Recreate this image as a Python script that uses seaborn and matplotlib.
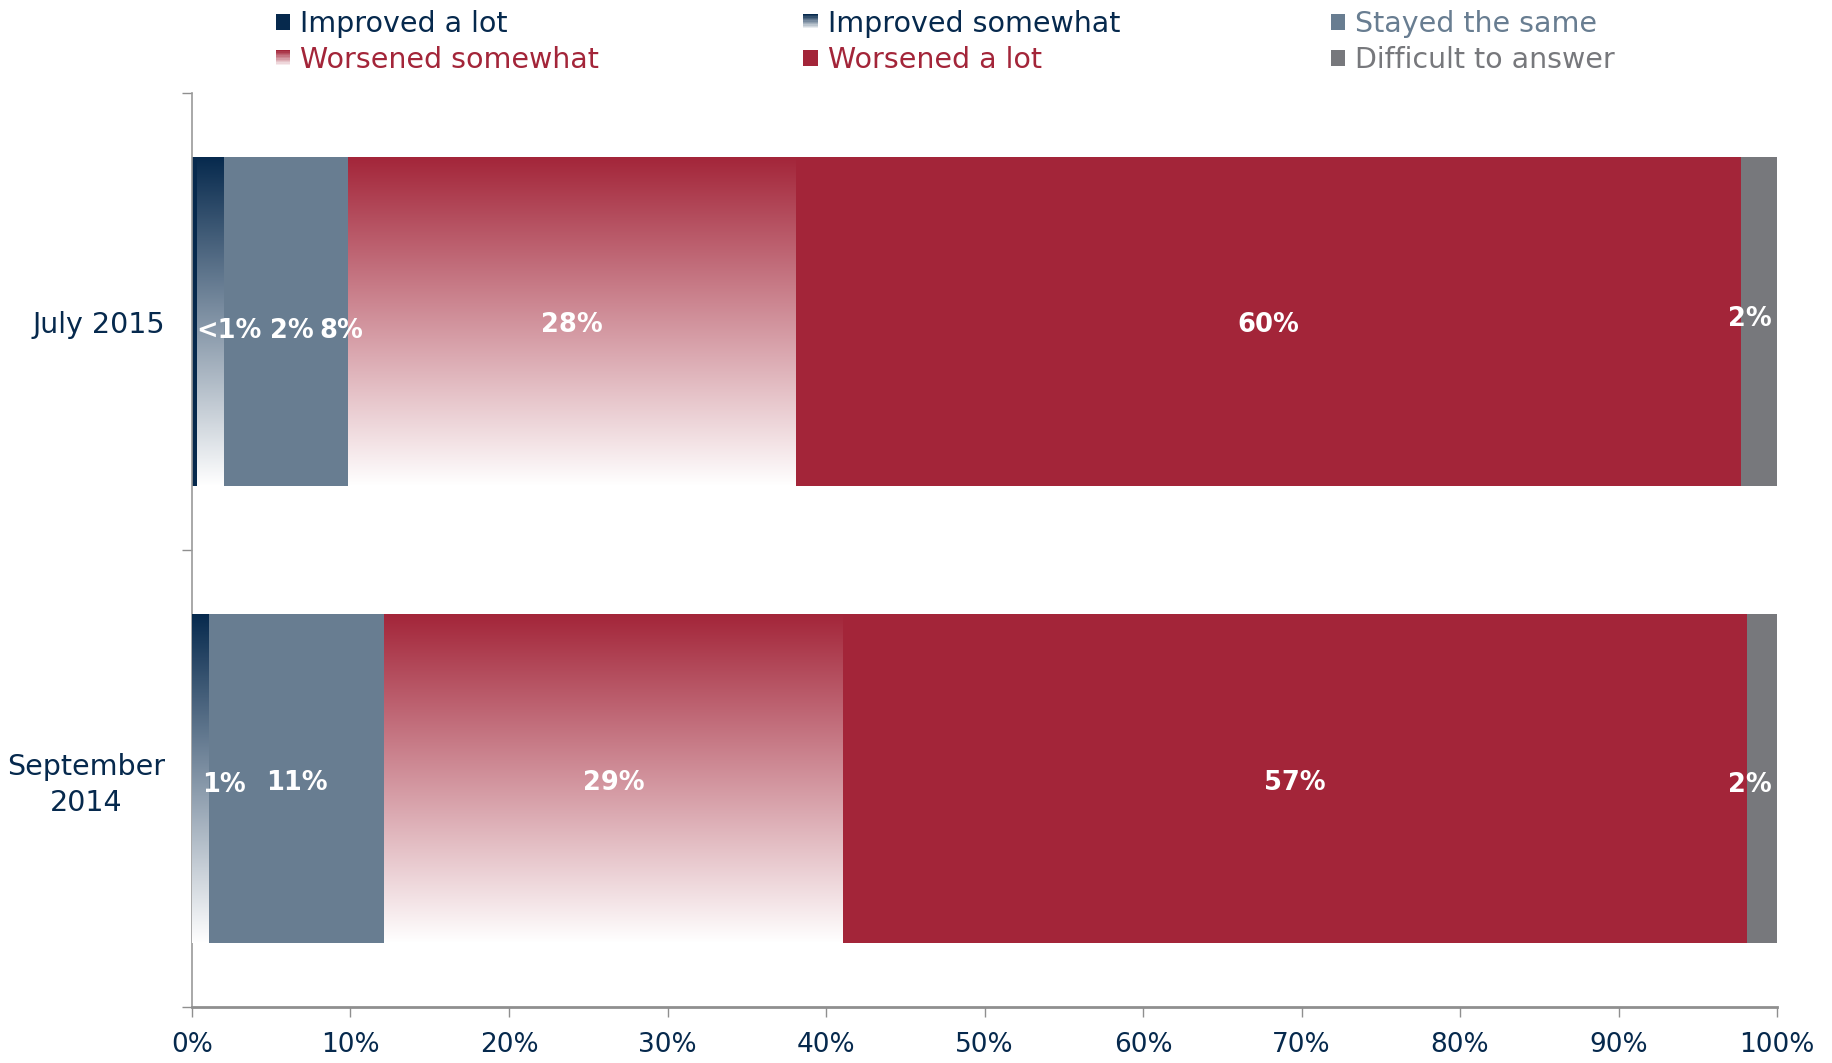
import numpy as np
import pandas as pd
import matplotlib
matplotlib.use("Agg")
import matplotlib.pyplot as plt
import matplotlib.patches as mpatches
from matplotlib.colors import LinearSegmentedColormap, to_rgb
from matplotlib.legend_handler import HandlerBase
import seaborn as sns

# dane (w %)
periods = ["July 2015", "September\n2014"]
answers = ["Improved a lot", "Improved somewhat", "Stayed the same",
           "Worsened somewhat", "Worsened a lot", "Difficult to answer"]
july_2015 = [0.3, 1.7, 7.85, 28.25, 59.6, 2.3]
sept_2014 = [0.0, 1.1, 11.0, 29.0, 57.0, 1.9]
labels_2015 = ["<1%", "2%", "8%", "28%", "60%", "2%"]
labels_2014 = ["", "1%", "11%", "29%", "57%", "2%"]

# styl
NAVY = "#06294D"
colors = [NAVY, NAVY, "#687D91", "#A32539", "#A32539", "#77787C"]
text_colors = [NAVY, NAVY, "#687D91", "#A32539", "#A32539", "#77787C"]
gradient = [False, True, False, True, False, False]
# przesunięcia etykiet (w punktach procentowych / w pt)
dx_2015 = [2.15, 5.15, 3.5, 0, 0, -0.55]
dx_2014 = [0, 1.45, 0, 0, 0, -0.75]
dy_2015 = [-6.5, -6.5, -6.5, -2.5, -2.5, 1.5]
dy_2014 = [-4.5, -4.5, -3, -3, -3, -4.5]

sns.set_style("white")
plt.rcParams["font.family"] = ["DejaVu Sans"]

df = pd.DataFrame({"period": periods,
                   **{a: [j, s] for a, j, s in zip(answers, july_2015, sept_2014)}})
lefts = df[answers].cumsum(axis=1) - df[answers]

fig = plt.figure(figsize=(18.32, 10.63), dpi=100)
ax = fig.add_axes([0.1048, 0.0527, 0.8652, 0.8598])

for i, a in enumerate(answers):
    sns.barplot(data=df, x=a, y="period", orient="y", left=lefts[a].values,
                color=colors[i], saturation=1, width=0.72, linewidth=0,
                edgecolor="none", ax=ax, zorder=2 + i)
    if gradient[i]:
        cmap = LinearSegmentedColormap.from_list("g" + str(i), [colors[i], "white"])
        for bar in ax.containers[-1]:
            x0, y0, w, h = bar.get_x(), bar.get_y(), bar.get_width(), bar.get_height()
            if w <= 0:
                continue
            im = ax.imshow(np.linspace(0, 1, 256).reshape(-1, 1), cmap=cmap,
                           aspect="auto", origin="upper",
                           extent=(x0, x0 + w, y0 + h, y0), zorder=2 + i)
            bar.set_facecolor("none")
            im.set_clip_path(bar)

# etykiety wartości
for row, (labs, dxs, dys) in enumerate([(labels_2015, dx_2015, dy_2015),
                                        (labels_2014, dx_2014, dy_2014)]):
    for i, a in enumerate(answers):
        if not labs[i]:
            continue
        xc = lefts.loc[row, a] + df.loc[row, a] / 2 + dxs[i]
        ax.annotate(labs[i], (xc, row), xytext=(0, dys[i]), textcoords="offset points",
                    ha="center", va="center", color="white", fontsize=18.5,
                    fontweight="bold", zorder=20)

ax.set_xlim(0, 100)
ax.set_ylim(1.5, -0.5)
ax.set_xlabel("")
ax.set_ylabel("")
ax.set_xticks(range(0, 101, 10))
ax.set_xticklabels([f"{v}%" for v in range(0, 101, 10)])
ax.set_yticks([0, 1])
ax.set_yticklabels(periods)
for t in ax.get_yticklabels():
    t.set_multialignment("center")
    t.set_linespacing(1.35)
ax.set_yticks([-0.5, 0.5, 1.5], minor=True)
ax.tick_params(axis="x", length=7, width=1, color="#8f8f8f", labelsize=19,
               labelcolor=NAVY, pad=11, bottom=True)
ax.tick_params(axis="y", which="major", length=0, labelsize=20.5, labelcolor=NAVY, pad=19)
ax.tick_params(axis="y", which="minor", length=7, width=1, color="#8f8f8f", left=True)

for s in ["top", "right"]:
    ax.spines[s].set_visible(False)
ax.spines["left"].set_color("#9a9a9a")
ax.spines["left"].set_linewidth(1.2)
ax.spines["bottom"].set_color("#8f8f8f")
ax.spines["bottom"].set_linewidth(2)
ax.grid(False)


# legenda z kwadracikami (gradient dla "somewhat")
class GradientHandler(HandlerBase):
    def create_artists(self, legend, orig_handle, xdescent, ydescent, width, height,
                       fontsize, trans):
        c = np.array(to_rgb(orig_handle.get_facecolor()))
        n = 12
        arts = []
        for k in range(n):
            f = k / (n - 1)
            col = c * (1 - f) + np.ones(3) * f
            r = mpatches.Rectangle((-xdescent, -ydescent + height * (1 - (k + 1) / n)),
                                   width, height / n, facecolor=col, edgecolor="none",
                                   transform=trans)
            arts.append(r)
        return arts


handles = [mpatches.Patch(facecolor=c, edgecolor="none") for c in colors]
hmap = {h: GradientHandler() for h, g in zip(handles, gradient) if g}

legend_cols = [[0, 3], [1, 4], [2, 5]]
legend_x = [0.149, 0.437, 0.725]
for cols, lx in zip(legend_cols, legend_x):
    leg = fig.legend([handles[k] for k in cols], [answers[k] for k in cols],
                     loc="upper left", bbox_to_anchor=(lx, 0.9935), frameon=False,
                     fontsize=20.5, handlelength=0.5, handleheight=0.5,
                     handletextpad=0.35, labelspacing=0.3, borderpad=0.1,
                     borderaxespad=0, handler_map=hmap)
    for t, k in zip(leg.get_texts(), cols):
        t.set_color(text_colors[k])

fig.savefig("out.png", dpi=100)
